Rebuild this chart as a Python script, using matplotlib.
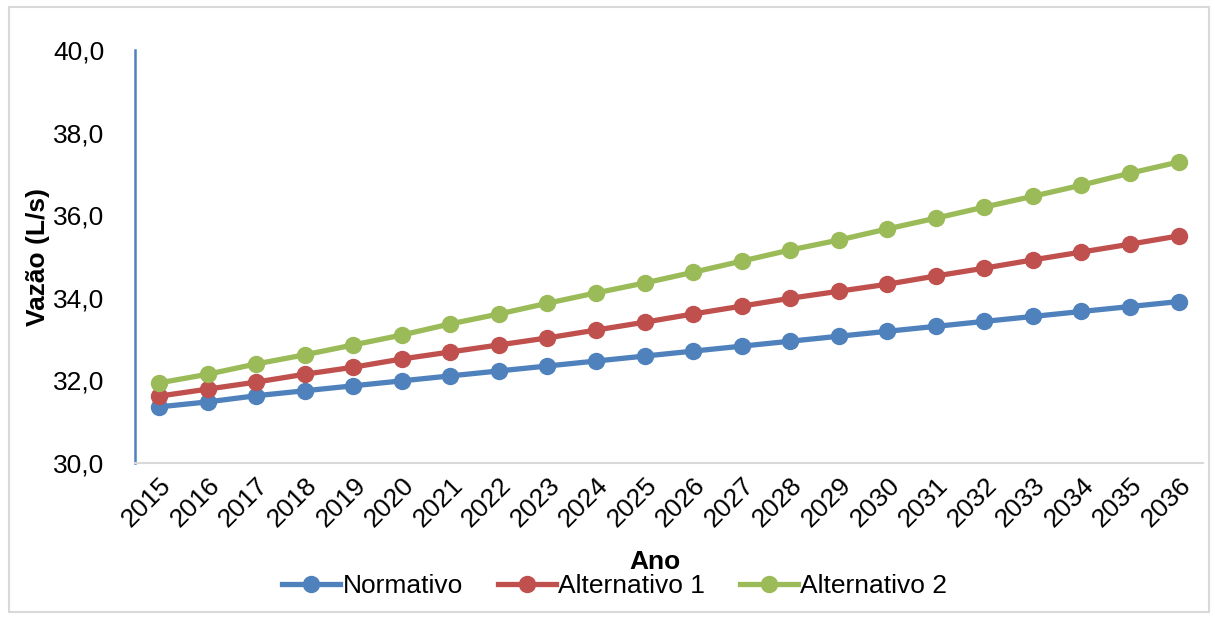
import matplotlib
matplotlib.use('Agg')
import matplotlib.pyplot as plt
from matplotlib.patches import Rectangle
from matplotlib.ticker import FuncFormatter

plt.rcParams['font.family'] = ['Liberation Sans', 'DejaVu Sans']

# dados
anos = [str(a) for a in range(2015, 2037)]
normativo = [31.36, 31.48, 31.63, 31.75, 31.87, 31.99, 32.11, 32.23, 32.35, 32.47, 32.59,
             32.71, 32.83, 32.95, 33.07, 33.19, 33.31, 33.43, 33.55, 33.67, 33.79, 33.91]
alternativo1 = [31.62, 31.79, 31.96, 32.15, 32.32, 32.52, 32.69, 32.86, 33.03, 33.22, 33.41,
                33.61, 33.80, 33.99, 34.16, 34.33, 34.53, 34.72, 34.92, 35.11, 35.30, 35.50]
alternativo2 = [31.94, 32.15, 32.40, 32.62, 32.86, 33.10, 33.37, 33.61, 33.87, 34.12, 34.36,
                34.62, 34.89, 35.16, 35.40, 35.67, 35.93, 36.20, 36.46, 36.73, 37.02, 37.29]

series = [('Normativo', normativo, '#4F81BD'),
          ('Alternativo 1', alternativo1, '#C0504D'),
          ('Alternativo 2', alternativo2, '#9BBB59')]

fig = plt.figure(figsize=(12.15, 6.19), dpi=100)
ax = fig.add_axes([0.111, 0.252, 0.879, 0.667])

x = list(range(len(anos)))
for nome, vals, cor in series:
    ax.plot(x, vals, color=cor, linewidth=3.8, marker='o', markersize=11.5, label=nome)

ax.set_xlim(-0.5, len(anos) - 0.5)
ax.set_ylim(30, 40)
ax.set_yticks([30, 32, 34, 36, 38, 40])
ax.yaxis.set_major_formatter(FuncFormatter(lambda v, p: f'{v:.1f}'.replace('.', ',')))
ax.set_xticks(x)
ax.set_xticklabels(anos, rotation=45, ha='right', rotation_mode='anchor')
ax.tick_params(axis='both', length=0, labelsize=19)
ax.tick_params(axis='x', pad=7)
ax.tick_params(axis='y', pad=22)

for s in ['top', 'right']:
    ax.spines[s].set_visible(False)
ax.spines['left'].set_color('#4F81BD')
ax.spines['left'].set_linewidth(1.8)
ax.spines['bottom'].set_color('#D9D9D9')
ax.spines['bottom'].set_linewidth(1.5)

fig.text(0.031, 0.585, 'Vazão (L/s)', rotation=90, fontsize=19, fontweight='bold',
         ha='center', va='center')
fig.text(0.539, 0.092, 'Ano', fontsize=19, fontweight='bold', ha='center', va='center')

fig.legend(loc='center', bbox_to_anchor=(0.506, 0.053), ncol=3, frameon=False,
           fontsize=19, handlelength=2.2, handletextpad=0.1, columnspacing=1.3)

# borda da figura
fig.patches.append(Rectangle((0.007, 0.011), 0.988, 0.977, transform=fig.transFigure,
                             fill=False, edgecolor='#D9D9D9', linewidth=1.5))

fig.savefig('out.png', dpi=100)
